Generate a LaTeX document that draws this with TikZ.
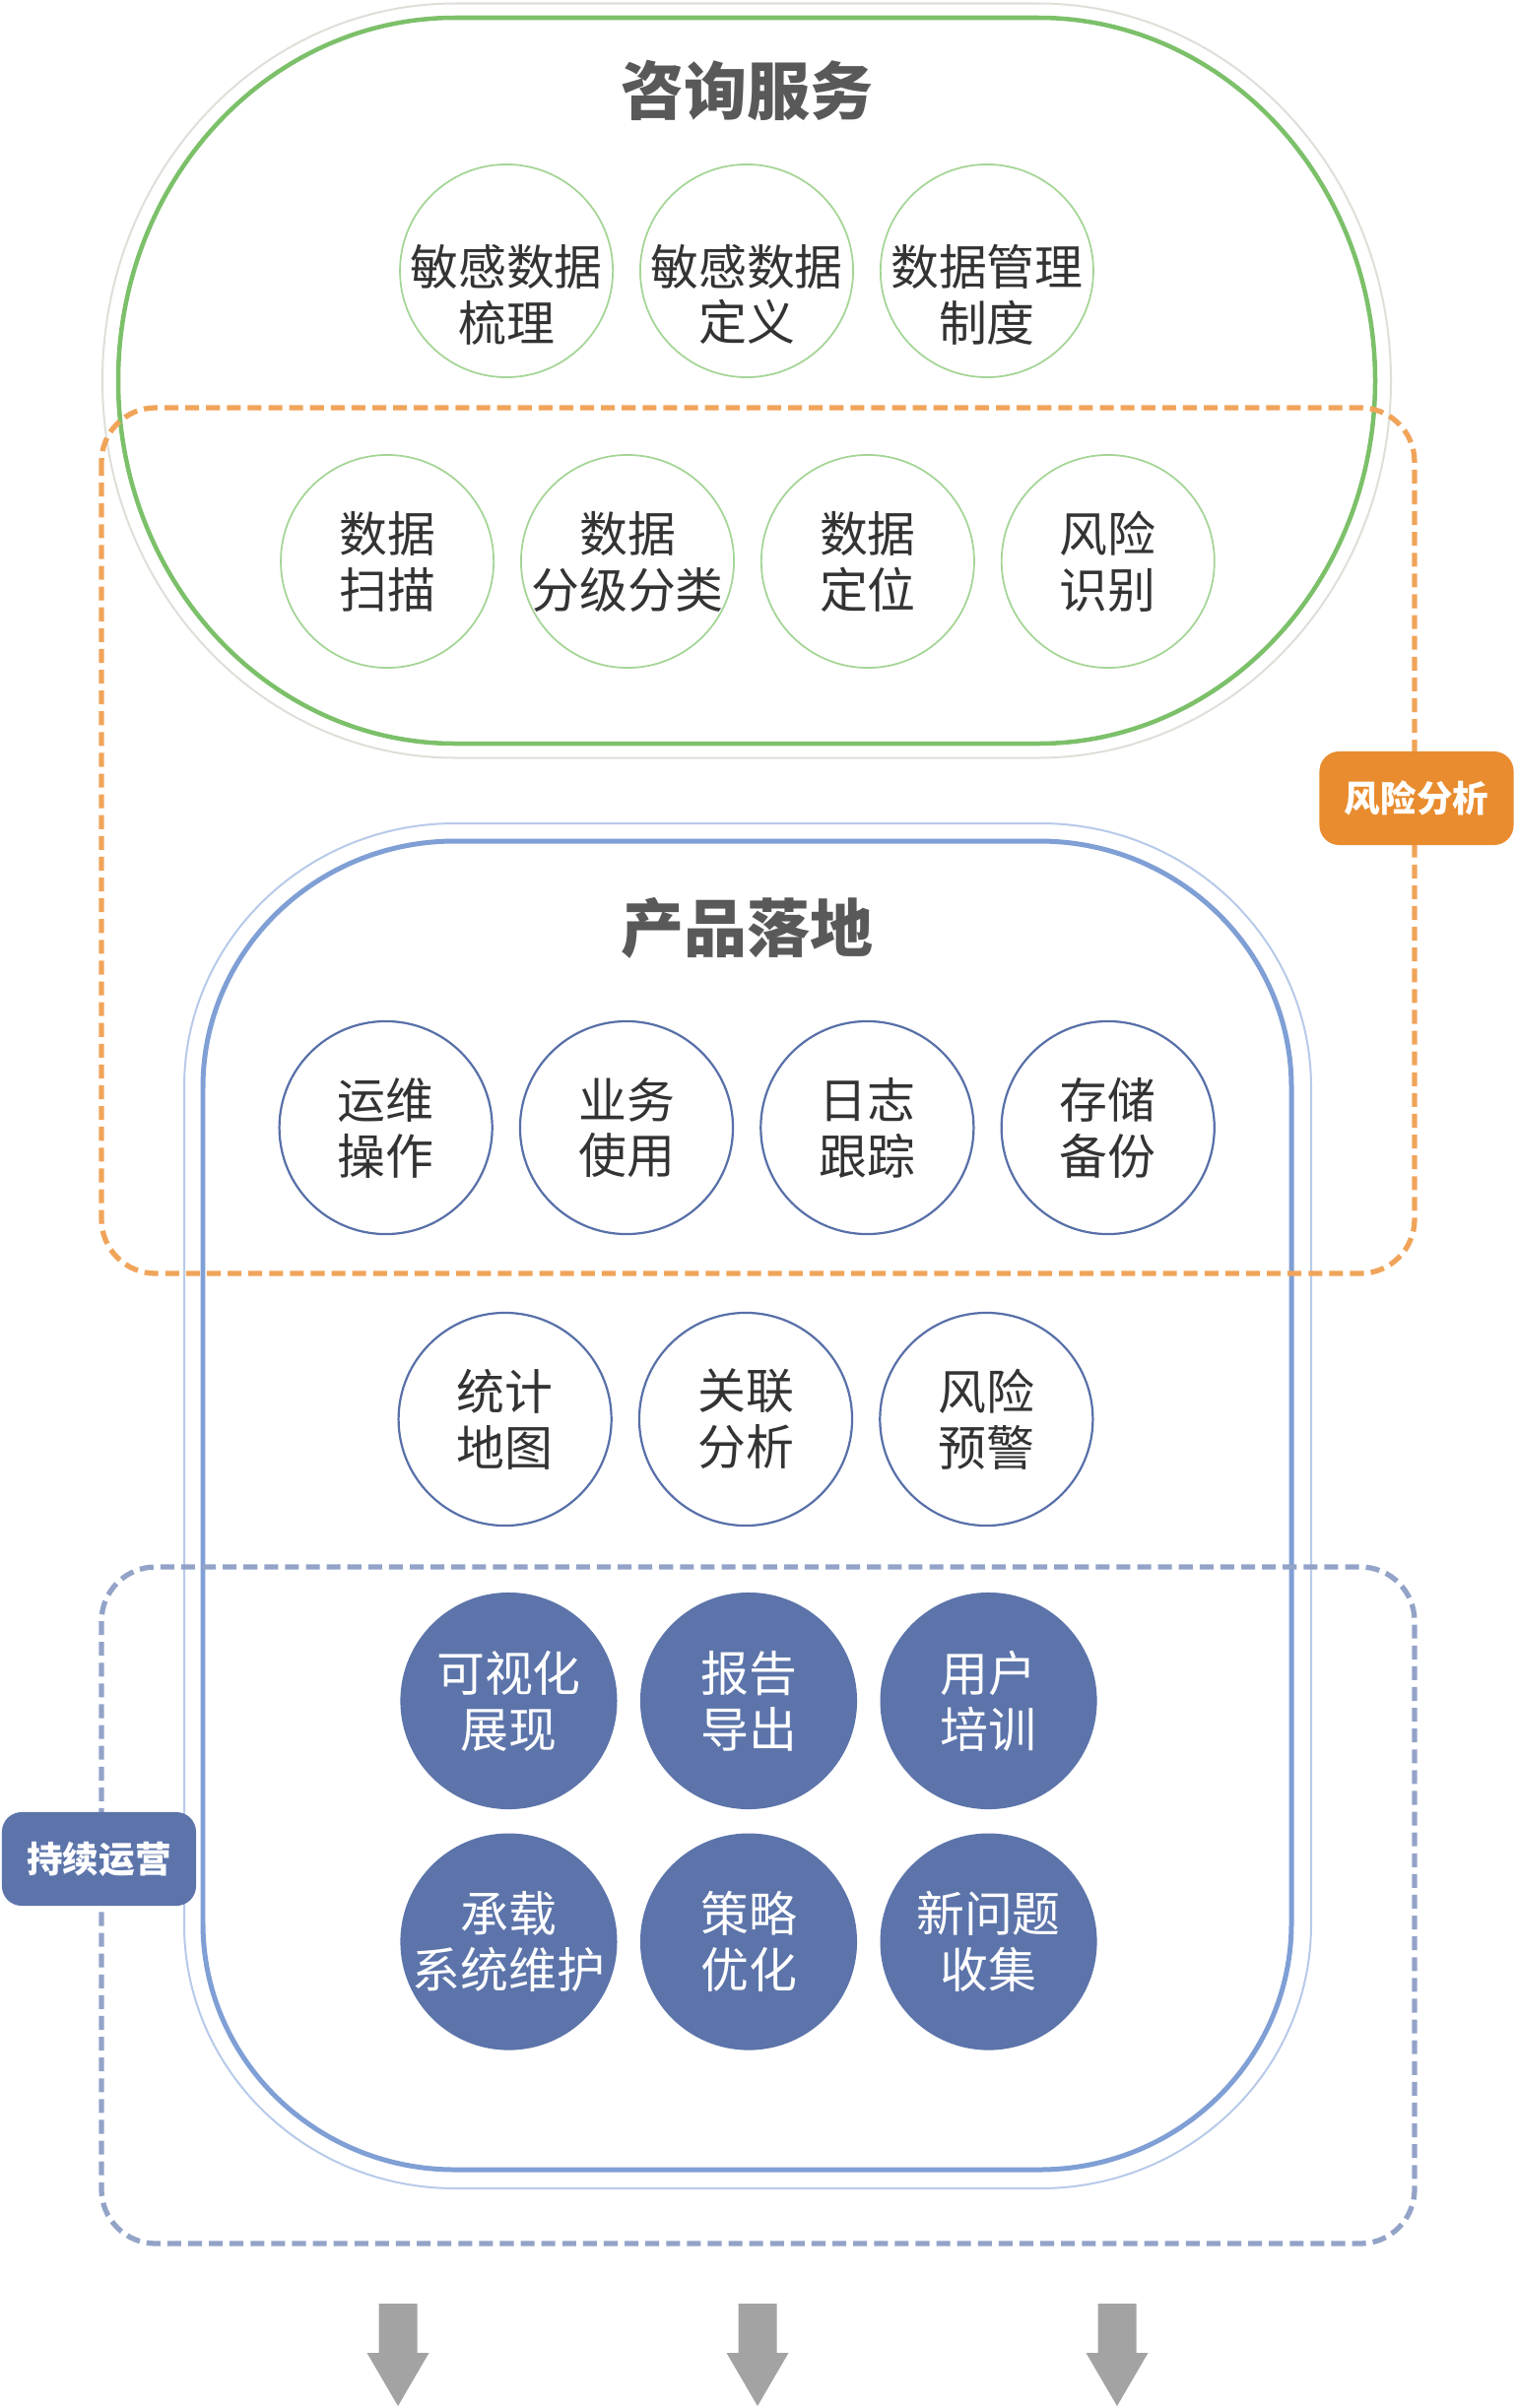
\documentclass[tikz,border=0pt]{standalone}
\usepackage{fontspec}
\setmainfont{Noto Sans CJK SC}
\usepackage{tikz}
\usetikzlibrary{positioning}

\definecolor{ringGray}{HTML}{DCE0D8}
\definecolor{ringGreen}{HTML}{7CC06A}
\definecolor{circGreen}{HTML}{A4D596}
\definecolor{ringBlueOut}{HTML}{B7CAE9}
\definecolor{ringBlueIn}{HTML}{7F9FD5}
\definecolor{circBlue}{HTML}{5870A8}
\definecolor{fillBlue}{HTML}{5C74AA}
\definecolor{dashOrange}{HTML}{F0A45A}
\definecolor{tagOrange}{HTML}{E98C2F}
\definecolor{dashBlue}{HTML}{93A3C8}
\definecolor{textDark}{HTML}{333333}
\definecolor{titleGray}{HTML}{595959}
\definecolor{arrowGray}{HTML}{A3A3A3}

% strut that pushes the top row text a bit lower in its circle
\newcommand{\lowgap}{\rule{0pt}{0.89cm}}

\tikzset{
  circbase/.style={circle, minimum size=2.16cm, inner sep=-1pt, align=center,
    font=\fontsize{13.9pt}{16.2pt}\selectfont},
  gcirc/.style={circbase, draw=circGreen, line width=0.5pt, text=textDark},
  gcircLow/.style={gcirc, inner sep=-5pt},
  bcirc/.style={circbase, draw=circBlue, line width=0.63pt, text=textDark},
  fcirc/.style={circbase, minimum size=2.2cm, fill=fillBlue, text=white},
  titletext/.style={text=titleGray, font=\bfseries\fontsize{18.2pt}{22pt}\selectfont},
  tagbox/.style={rounded corners=0.2cm, minimum width=1.97cm, minimum height=0.95cm,
    text=white, font=\bfseries\fontsize{10.4pt}{12pt}\selectfont},
  dashline/.style={line width=1.5pt, dash pattern=on 4pt off 2pt, rounded corners=0.55cm}
}

\begin{document}
\begin{tikzpicture}[x=0.01cm, y=-0.01cm, node distance=0.26cm]
    \useasboundingbox (0,0) rectangle (1539,2445);

    % consulting ring
    \draw[ringGray, line width=0.57pt] (462,3.5) -- (1054,3.5)
        arc[start angle=-90, end angle=90, x radius=358, y radius=383] -- (462,769.5)
        arc[start angle=90, end angle=270, x radius=358, y radius=383] -- cycle;
    \draw[ringGreen, line width=1.28pt] (462,18) -- (1054,18)
        arc[start angle=-90, end angle=90, x radius=342, y radius=368.5] -- (462,755)
        arc[start angle=90, end angle=270, x radius=342, y radius=368.5] -- cycle;

    % product ring
    \draw[ringBlueOut, line width=0.57pt] (462,836) -- (1056,836)
        arc[start angle=-90, end angle=0, x radius=275, y radius=268] -- (1331,1954)
        arc[start angle=0, end angle=90, x radius=275, y radius=268] -- (462,2222)
        arc[start angle=90, end angle=180, x radius=275, y radius=268] -- (187,1104)
        arc[start angle=180, end angle=270, x radius=275, y radius=268] -- cycle;
    \draw[ringBlueIn, line width=1.42pt] (462,854) -- (1055,854)
        arc[start angle=-90, end angle=0, x radius=256, y radius=250] -- (1311,1953)
        arc[start angle=0, end angle=90, x radius=256, y radius=250] -- (462,2203)
        arc[start angle=90, end angle=180, x radius=256, y radius=250] -- (206,1104)
        arc[start angle=180, end angle=270, x radius=256, y radius=250] -- cycle;

    \node[titletext] (consultTitle) at (758,92) {咨询服务};
    \node[gcircLow] (c2) at (758,275) {\lowgap 敏感数据\\定义};
    \node[gcircLow, left=of c2] (c1) {\lowgap 敏感数据\\梳理};
    \node[gcircLow, right=of c2] (c3) {\lowgap 数据管理\\制度};

    \node[gcirc] (d2) at (637,570) {数据\\分级分类};
    \node[gcirc, left=of d2] (d1) {数据\\扫描};
    \node[gcirc, right=of d2] (d3) {数据\\定位};
    \node[gcirc, right=of d3] (d4) {风险\\识别};

    \node[titletext] (productTitle) at (758,942) {产品落地};
    \node[bcirc] (p2) at (636,1145) {业务\\使用};
    \node[bcirc, left=of p2] (p1) {运维\\操作};
    \node[bcirc, right=of p2] (p3) {日志\\跟踪};
    \node[bcirc, right=of p3] (p4) {存储\\备份};

    \node[bcirc] (q2) at (757,1441) {关联\\分析};
    \node[bcirc, left=of q2] (q1) {统计\\地图};
    \node[bcirc, right=of q2] (q3) {风险\\预警};

    \node[fcirc] (o2) at (760,1727) {报告\\导出};
    \node[fcirc, left=0.22cm of o2] (o1) {可视化\\展现};
    \node[fcirc, right=0.22cm of o2] (o3) {用户\\培训};
    \node[fcirc, below=0.23cm of o1] (o4) {承载\\系统维护};
    \node[fcirc, below=0.23cm of o2] (o5) {策略\\优化};
    \node[fcirc, below=0.23cm of o3] (o6) {新问题\\收集};

    % dashed groups and their tags
    \draw[dashline, dashOrange] (103,414) rectangle (1436,1293);
    \draw[dashline, dashBlue] (103,1591) rectangle (1436,2278);
    \node[tagbox, fill=tagOrange] (riskLabel) at (1438,810.5) {风险分析};
    \node[tagbox, fill=fillBlue] (opsLabel) at (100.5,1887.5) {持续运营};

    % down arrows
    \foreach \ax in {404,769,1134}
        \fill[arrowGray] (\ax-19.5,2339) -- (\ax+19.5,2339) -- (\ax+19.5,2389) -- (\ax+31.5,2389)
            -- (\ax,2443) -- (\ax-31.5,2389) -- (\ax-19.5,2389) -- cycle;
\end{tikzpicture}
\end{document}
